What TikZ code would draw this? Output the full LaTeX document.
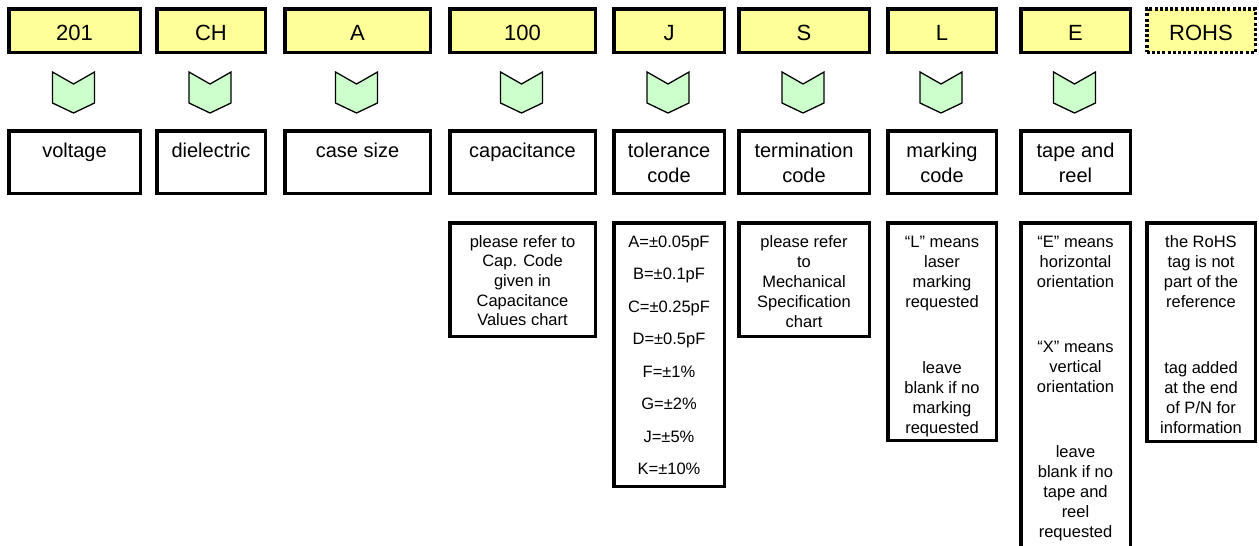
\documentclass[tikz,border=0pt]{standalone}
\usepackage{fontspec}
\setmainfont{Liberation Sans}
\usetikzlibrary{calc}
\definecolor{ylw}{HTML}{FFFF99}
\definecolor{grn}{HTML}{CCFFCC}
\newcommand\lowered[1]{\raisebox{-2.2pt}[\height][\depth]{#1}}
\tikzset{
  box/.style={draw=black, line width=3.5pt, inner sep=0pt},
  topbox/.style={box, fill=ylw, minimum height=43.5pt, font=\fontsize{22}{26}\selectfont},
  tagbox/.style={topbox, dash pattern=on 3pt off 2.2pt},
  lblbox/.style={box, fill=white, minimum height=62.5pt},
  detbox/.style={box, fill=white},
  lbltxt/.style={anchor=base, inner sep=0pt, font=\fontsize{20}{24}\selectfont},
  dettxt/.style={anchor=base, inner sep=0pt, font=\fontsize{16.5}{20}\selectfont},
  chev/.style={draw=black, line width=1.3pt, fill=grn, line join=miter},
}
\begin{document}
\begin{tikzpicture}[x=1pt,y=-1pt]
\clip (0,0) rectangle (1259,546);
\fill[white] (0,0) rectangle (1259,546);
% top code boxes
\foreach \i/\cx/\w/\t in {1/74.5/131.5/201, 2/211/108.5/CH, 3/357.5/145.5/A, 4/522.5/145.5/100,
  5/669/110.5/J, 6/804/130.5/S, 7/942/108.5/L, 8/1075.5/109.5/E}{
  \node[topbox, minimum width=\w pt] (t\i) at (\cx,30.5) {\lowered{\t}};
  \node[lblbox, minimum width=\w pt] (b\i) at (\cx,162) {};
  \path (t\i.center) ++(-1,41.5) coordinate (c\i);
  \draw[chev] (c\i) ++(-21,0) -- ++(21,12) -- ++(21,-12) -- ++(0,31) -- ++(-21,10) -- ++(-21,-10) -- cycle;
}
\node[tagbox, minimum width=108.5pt] (t9) at (1201,30.5) {\lowered{ROHS}};
% label texts
\foreach \x/\y/\t [count=\k] in {74.5/157/voltage, 211/157/dielectric, 357.5/157/case size,
  522.5/157/capacitance, 669/157/tolerance, 669/182/code, 804/157/termination, 804/182/code,
  942/157/marking, 942/182/code, 1075.5/157/tape and, 1075.5/182/reel}{
  \node[lbltxt] (lt\k) at (\x,\y) {\t};
}
% detail boxes
\node[detbox, minimum width=145.5pt, minimum height=113.5pt] (d4) at (522.5,279.5) {};
\node[detbox, minimum width=110.5pt, minimum height=263.5pt] (d5) at (669,354.5) {};
\node[detbox, minimum width=130.5pt, minimum height=113.5pt] (d6) at (804,279.5) {};
\node[detbox, minimum width=108.5pt, minimum height=217.5pt] (d7) at (942,331.5) {};
\node[detbox, minimum width=109.5pt, minimum height=345.5pt] (d8) at (1075.5,395.5) {};
\node[detbox, minimum width=108.5pt, minimum height=218.5pt] (d9) at (1201,332) {};
% detail texts
\foreach \x/\y/\t [count=\k] in {
  522.5/247/{please refer to}, 522.5/266.7/{Cap. Code}, 522.5/286.4/{given in},
  522.5/306.1/{Capacitance}, 522.5/325.8/{Values chart},
  669/247/{A=±0.05pF}, 669/279.5/{B=±0.1pF}, 669/312/{C=±0.25pF}, 669/344.5/{D=±0.5pF},
  669/377/{F=±1\%}, 669/409.5/{G=±2\%}, 669/442/{J=±5\%}, 669/474.5/{K=±10\%},
  804/247/{please refer}, 804/267/{to}, 804/287/{Mechanical}, 804/307/{Specification}, 804/327/{chart},
  942/247/{“L” means}, 942/267/{laser}, 942/287/{marking}, 942/307/{requested},
  942/373/{leave}, 942/393/{blank if no}, 942/413/{marking}, 942/433/{requested},
  1075.5/247/{“E” means}, 1075.5/267/{horizontal}, 1075.5/287/{orientation},
  1075.5/352/{“X” means}, 1075.5/372/{vertical}, 1075.5/392/{orientation},
  1075.5/457/{leave}, 1075.5/477/{blank if no}, 1075.5/497/{tape and}, 1075.5/517/{reel}, 1075.5/537/{requested},
  1201/247/{the RoHS}, 1201/267/{tag is not}, 1201/287/{part of the}, 1201/307/{reference},
  1201/373/{tag added}, 1201/393/{at the end}, 1201/413/{of P/N for}, 1201/433/{information}}{
  \node[dettxt] (dt\k) at (\x,\y) {\t};
}
\end{tikzpicture}
\end{document}
